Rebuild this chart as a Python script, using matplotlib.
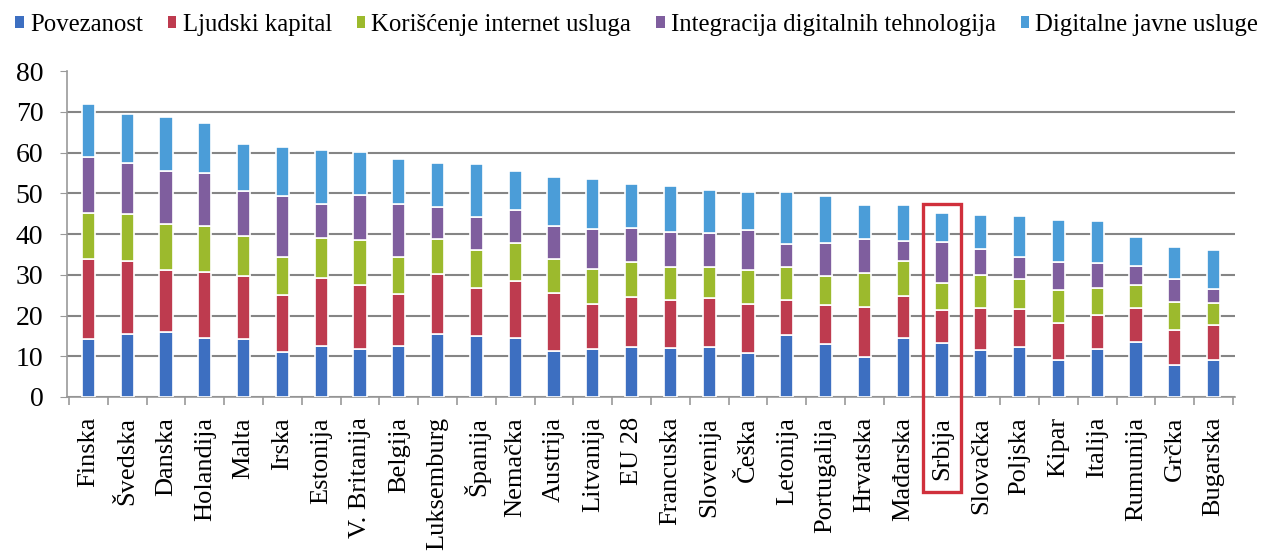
import matplotlib
matplotlib.use("Agg")
import matplotlib.pyplot as plt
import numpy as np
from matplotlib.patches import Patch, Rectangle

# Podaci (DESI indeks po dimenzijama)
zemlje = ["Finska", "Švedska", "Danska", "Holandija", "Malta", "Irska", "Estonija",
          "V. Britanija", "Belgija", "Luksemburg", "Španija", "Nemačka", "Austrija",
          "Litvanija", "EU 28", "Francuska", "Slovenija", "Češka", "Letonija",
          "Portugalija", "Hrvatska", "Mađarska", "Srbija", "Slovačka", "Poljska",
          "Kipar", "Italija", "Rumunija", "Grčka", "Bugarska"]

povezanost = [14.3, 15.5, 16.0, 14.6, 14.2, 11.0, 12.5, 11.9, 12.5, 15.5, 14.9, 14.6, 11.3,
              11.9, 12.3, 12.1, 12.3, 10.9, 15.1, 13.1, 9.8, 14.5, 13.3, 11.5, 12.3,
              9.2, 11.9, 13.5, 7.8, 9.0]
ljudski_kapital = [19.6, 18.0, 15.3, 16.1, 15.4, 14.1, 16.7, 15.7, 12.7, 14.6, 11.9, 14.0, 14.3,
                   11.0, 12.2, 11.8, 12.0, 12.0, 8.6, 9.4, 12.4, 10.4, 8.0, 10.4, 9.2,
                   9.0, 8.3, 8.4, 8.6, 8.6]
internet_usluge = [11.3, 11.5, 11.2, 11.2, 9.9, 9.3, 9.8, 10.9, 9.2, 8.8, 9.2, 9.2, 8.2,
                   8.6, 8.6, 8.0, 7.6, 8.2, 8.2, 7.2, 8.3, 8.5, 6.8, 8.0, 7.5,
                   8.0, 6.5, 5.5, 6.9, 5.5]
integracija = [13.7, 12.4, 13.1, 13.2, 11.1, 14.9, 8.4, 11.0, 13.1, 7.7, 8.3, 8.0, 8.1,
               9.8, 8.4, 8.6, 8.3, 9.8, 5.7, 8.2, 8.4, 5.0, 9.9, 6.5, 5.4,
               6.9, 6.2, 4.7, 5.7, 3.5]
javne_usluge = [13.1, 12.0, 13.1, 12.2, 11.6, 12.0, 13.3, 10.6, 10.9, 10.9, 12.8, 9.8, 12.1,
                12.3, 10.9, 11.3, 10.7, 9.4, 12.7, 11.4, 8.3, 8.8, 7.2, 8.3, 10.0,
                10.4, 10.2, 7.3, 7.8, 9.4]

serije = [povezanost, ljudski_kapital, internet_usluge, integracija, javne_usluge]
nazivi = ["Povezanost", "Ljudski kapital", "Korišćenje internet usluga",
          "Integracija digitalnih tehnologija", "Digitalne javne usluge"]
boje = ["#3D6FC1", "#BE3B4F", "#9CBA2D", "#7F5E9E", "#4B9DD8"]

plt.rcParams["font.family"] = ["Liberation Serif", "DejaVu Serif"]

fig = plt.figure(figsize=(12.61, 5.56), dpi=100)
ax = fig.add_axes([0.0531, 0.286, 0.9263, 0.586])

x = np.arange(len(zemlje))
dno = np.zeros(len(zemlje))
for vrednosti, boja in zip(serije, boje):
    ax.bar(x, vrednosti, width=0.34, bottom=dno, color=boja,
           edgecolor="white", linewidth=1.2, zorder=3)
    dno += np.array(vrednosti)

ax.set_xlim(-0.55, len(zemlje) - 0.45)
ax.set_ylim(0, 80)
ax.set_yticks(range(0, 81, 10))
ax.tick_params(axis="y", labelsize=20, length=5, color="#999999", pad=12)
ax.grid(axis="y", color="#858585", linewidth=1.5, zorder=0)
ax.get_ygridlines()[-1].set_visible(False)

# oznake zemalja ispod stubova, crtice izmedju kategorija
ax.set_xticks(x)
ax.set_xticklabels(zemlje, rotation=90, fontsize=19)
ax.tick_params(axis="x", length=0, pad=14.5)
ax.set_xticks(np.arange(len(zemlje) + 1) - 0.5, minor=True)
ax.tick_params(axis="x", which="minor", length=6, color="#999999", width=1.2)

for s in ["top", "right"]:
    ax.spines[s].set_visible(False)
for s in ["left", "bottom"]:
    ax.spines[s].set_color("#999999")
    ax.spines[s].set_linewidth(1.2)

# crveni okvir oko Srbije
i = zemlje.index("Srbija")
ax.add_patch(Rectangle((i - 0.49, -23.3), 0.98, 70.8, fill=False,
                       edgecolor="#D0303C", linewidth=2.4, clip_on=False, zorder=5))

rucke = [Patch(facecolor=b, edgecolor="none") for b in boje]
fig.legend(rucke, nazivi, loc="upper center", bbox_to_anchor=(0.505, 1.015), ncol=5,
           frameon=False, fontsize=17.8, handlelength=0.35, handleheight=0.35,
           handletextpad=0.25, columnspacing=1.0)

plt.savefig("out.png", dpi=100)
